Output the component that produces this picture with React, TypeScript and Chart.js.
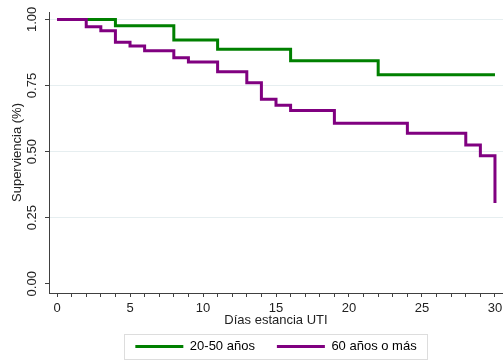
import React, { useEffect, useRef } from 'react';
import { Chart, registerables } from 'chart.js';

Chart.register(...registerables);

// ---- data ----
const seriesLabels = ['20-50 años', '60 años o más'];
const greenDays = [0, 4, 8, 11, 16, 22, 30];
const greenSurv = [1.0, 0.976, 0.922, 0.887, 0.844, 0.791, 0.791];
const purpleDays = [0, 2, 3, 4, 5, 6, 8, 9, 11, 13, 14, 15, 16, 19, 24, 28, 29, 30];
const purpleSurv = [1.0, 0.972, 0.957, 0.914, 0.899, 0.881, 0.855, 0.839, 0.802, 0.76, 0.698, 0.675, 0.655, 0.607, 0.569, 0.525, 0.484, 0.305];
const xTickValues = [0, 1, 2, 3, 4, 5, 6, 7, 8, 9, 10, 11, 12, 13, 14, 15, 16, 17, 18, 19, 20, 21, 22, 23, 24, 25, 26, 27, 28, 29, 30];
const xLabelValues = [0, 5, 10, 15, 20, 25, 30];
const yTickValues = [0, 0.25, 0.5, 0.75, 1];
const xTitle = 'Días estancia UTI';
const yTitle = 'Superviencia (%)';

const GREEN = '#008000';
const PURPLE = '#800080';
const AXIS = '#404040';
const TEXT = '#222222';
const GRID = '#e6eef0';
const FONT = "'Liberation Sans', Arial, sans-serif";

const legendBorder = {
  id: 'legendBorder',
  afterDraw(chart: any) {
    const lg = chart.legend;
    if (!lg || !lg.lineWidths) return;
    const ctx = chart.ctx;
    const p = lg.options.labels.padding;
    const start = (lg.left + p + lg.right - lg.lineWidths[0]) / 2;
    const end = start + lg.lineWidths[0] - p;
    const top = lg.top + p;
    ctx.save();
    ctx.strokeStyle = '#dddddd';
    ctx.lineWidth = 1;
    ctx.strokeRect(Math.round(start - 11) + 0.5, Math.round(top - 6) + 0.5, Math.round(end - start + 22), 25);
    ctx.restore();
  },
};

export default function App() {
  const ref = useRef<HTMLCanvasElement | null>(null);

  useEffect(() => {
    if (!ref.current) return;
    const green = greenDays.map((d, i) => ({ x: d, y: greenSurv[i] }));
    const purple = purpleDays.map((d, i) => ({ x: d, y: purpleSurv[i] }));

    const chart = new Chart(ref.current, {
      type: 'line',
      data: {
        datasets: [
          {
            label: seriesLabels[0],
            data: green,
            borderColor: GREEN,
            backgroundColor: GREEN,
            borderWidth: 3,
            pointRadius: 0,
            stepped: true,
            fill: false,
            borderJoinStyle: 'miter',
            order: 1,
          },
          {
            label: seriesLabels[1],
            data: purple,
            borderColor: PURPLE,
            backgroundColor: PURPLE,
            borderWidth: 3,
            pointRadius: 0,
            stepped: true,
            fill: false,
            borderJoinStyle: 'miter',
            order: 0,
          },
        ],
      },
      options: {
        animation: false,
        responsive: false,
        devicePixelRatio: 1,
        layout: { padding: { top: 12, left: 0, right: 0, bottom: 0 } },
        font: { family: FONT },
        color: TEXT,
        plugins: {
          tooltip: { enabled: false },
          legend: {
            position: 'bottom',
            fullSize: false,
            maxHeight: 42,
            labels: {
              boxWidth: 48,
              boxHeight: 3,
              padding: 22,
              color: TEXT,
              font: { family: FONT, size: 13 },
              generateLabels(c: any) {
                return c.data.datasets.map((ds: any, i: number) => ({
                  text: ds.label,
                  fillStyle: ds.borderColor,
                  strokeStyle: ds.borderColor,
                  lineWidth: 0,
                  hidden: false,
                  datasetIndex: i,
                }));
              },
            },
          },
        },
        scales: {
          x: {
            type: 'linear',
            min: -0.55,
            max: 30.55,
            afterBuildTicks(scale: any) {
              scale.ticks = xTickValues.map((v) => ({ value: v }));
            },
            afterFit(scale: any) {
              scale.height = 25;
            },
            ticks: {
              autoSkip: false,
              maxRotation: 0,
              minRotation: 0,
              padding: 0,
              color: TEXT,
              font: { family: FONT, size: 13, lineHeight: 1.7 },
              callback: (v: any) => (xLabelValues.includes(Number(v)) ? String(v) : ''),
            },
            grid: {
              display: true,
              drawOnChartArea: false,
              drawTicks: true,
              tickLength: 4,
              tickColor: AXIS,
            },
            border: { display: true, color: AXIS, width: 1 },
            title: {
              display: true,
              text: xTitle,
              color: TEXT,
              font: { family: FONT, size: 13 },
              padding: { top: 0, bottom: -9.8 },
            },
          },
          y: {
            type: 'linear',
            min: -0.035,
            max: 1.028,
            afterBuildTicks(scale: any) {
              scale.ticks = yTickValues.map((v) => ({ value: v }));
            },
            afterFit(scale: any) {
              scale.width = 49;
            },
            ticks: {
              autoSkip: false,
              minRotation: 90,
              maxRotation: 90,
              crossAlign: 'center',
              padding: 0,
              color: TEXT,
              font: { family: FONT, size: 13 },
              callback: (v: any) => Number(v).toFixed(2),
            },
            grid: {
              display: true,
              drawOnChartArea: true,
              drawTicks: true,
              tickLength: 4,
              tickColor: AXIS,
              color: (c: any) => (c.tick && c.tick.value === 0 ? 'rgba(0,0,0,0)' : GRID),
            },
            border: { display: true, color: AXIS, width: 1 },
            title: {
              display: true,
              text: yTitle,
              color: TEXT,
              font: { family: FONT, size: 13 },
              padding: { top: 10, bottom: 0 },
            },
          },
        },
      } as any,
      plugins: [legendBorder],
    });
    return () => chart.destroy();
  }, []);

  return (
    <div style={{ position: 'absolute', left: 0, top: 0, width: 503, height: 360, background: '#fff' }}>
      <canvas ref={ref} width={503} height={360} style={{ width: 503, height: 360, display: 'block' }} />
    </div>
  );
}
